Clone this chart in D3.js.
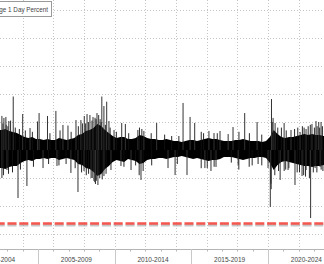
<!DOCTYPE html>
<html>
<head>
<meta charset="utf-8">
<script src="https://cdn.jsdelivr.net/npm/d3@7"></script>
<style>
  body { margin: 0; background: #fff; }
  svg { display: block; }
</style>
</head>
<body>
<svg id="chart"></svg>
<script>
// quarterly body of the daily change (dense black band), starting 2002 Q2
var coreStart = "2002-04-01";
var coreHigh = [1.43, 1.43, 1.5,
  1.36, 1.29, 1.21, 1.07,   0.93, 0.86, 0.93, 0.79,   0.79, 0.71, 0.79, 0.71,
  0.71, 0.86, 0.79, 0.71,   0.79, 0.86, 1.07, 1.14,   1.36, 1.43, 1.57, 1.86,
  1.71, 1.43, 1.21, 1.0,    0.86, 0.93, 0.93, 0.79,   0.79, 0.86, 1.07, 1.0,
  0.86, 0.79, 0.79, 0.71,   0.71, 0.79, 0.71, 0.64,   0.64, 0.57, 0.64, 0.71,
  0.71, 0.64, 0.71, 0.79,   0.86, 0.79, 0.79, 0.71,   0.64, 0.64, 0.64, 0.71,
  0.71, 0.79, 0.71, 0.64,   0.64, 0.64, 0.57, 0.64,   0.93, 1.43, 1.14, 0.93,
  0.86, 0.93, 0.93, 1.0,    1.07, 1.14, 1.07, 1.14,   1.07, 1.07, 1.0, 1.0];
var coreLow = [-1.29, -1.29, -1.36,
  -1.21, -1.14, -1.14, -0.93,   -0.79, -0.71, -0.79, -0.64,   -0.64, -0.57, -0.64, -0.57,
  -0.57, -0.71, -0.64, -0.57,   -0.64, -0.71, -1.0, -1.07,    -1.29, -1.36, -1.57, -1.86,
  -1.71, -1.36, -1.14, -0.86,   -0.71, -0.79, -0.86, -0.64,   -0.71, -0.79, -1.0, -0.93,
  -0.71, -0.64, -0.64, -0.57,   -0.57, -0.64, -0.57, -0.5,    -0.5, -0.43, -0.5, -0.57,
  -0.64, -0.57, -0.64, -0.71,   -0.79, -0.71, -0.71, -0.64,   -0.5, -0.5, -0.5, -0.57,
  -0.64, -0.71, -0.64, -0.57,   -0.57, -0.5, -0.5, -0.57,     -0.93, -1.43, -1.07, -0.86,
  -0.79, -0.86, -0.93, -1.0,    -1.07, -1.14, -1.14, -1.21,   -1.14, -1.14, -1.07, -1.07];

// single days that stick far out of the body
var spikeDates = [
  "2002-08-25", "2002-10-12", "2002-11-28", "2003-02-06", "2003-05-22", "2004-01-02",
  "2004-06-25", "2004-12-20", "2005-01-27", "2005-08-15", "2006-03-03", "2006-08-18",
  "2006-12-16", "2007-06-25", "2007-10-20", "2008-01-08", "2008-03-14", "2008-05-22",
  "2008-08-03", "2008-11-06", "2008-12-16", "2009-03-01", "2009-04-20", "2009-06-25",
  "2009-08-18", "2009-12-17", "2010-06-18", "2010-09-13", "2011-07-08", "2011-11-28",
  "2012-09-27", "2014-06-18", "2014-12-02", "2015-03-22", "2016-02-24", "2016-06-24",
  "2016-11-14", "2017-05-27", "2017-09-20", "2018-06-25", "2019-04-16", "2020-03-24",
  "2020-05-01", "2020-06-18", "2021-01-19", "2021-07-02", "2022-02-03", "2022-06-25",
  "2022-11-13", "2023-02-17", "2023-04-23", "2023-06-18",
  "2002-08-26", "2002-12-24", "2003-09-13", "2004-04-12", "2005-05-01", "2006-03-29",
  "2007-02-24", "2007-08-11", "2008-01-02", "2008-06-18", "2008-08-26", "2008-10-01",
  "2008-11-28", "2009-04-21", "2009-10-05", "2010-05-31", "2011-01-26", "2011-09-20",
  "2013-06-25", "2013-12-10", "2014-09-20", "2015-11-20", "2016-04-13", "2016-08-11",
  "2018-01-20", "2020-01-02", "2020-02-25", "2020-10-16", "2021-01-20", "2021-04-23",
  "2021-10-05", "2022-03-22", "2022-06-26", "2022-10-12", "2023-01-27", "2023-05-27"];
var spikeValues = [
  2.43, 2.29, 2.36, 2.07, 3.82, 2.57,
  1.57, 2.04, 2.64, 2.43, 2.79, 1.79,
  1.75, 2.14, 2.14, 2.43, 2.57, 2.5,
  2.36, 2.64, 2.5, 3.82, 3.14, 3.45,
  2.07, 1.43, 1.93, 1.86, 1.43, 1.36,
  1.93, 3.36, 2.36, 1.93, 1.36, 1.21,
  1.36, 1.14, 1.64, 2.64, 2.0, 3.64,
  2.29, 1.93, 1.93, 1.43, 1.29, 1.5,
  1.86, 2.07, 2.0, 2.0,
  -2.0, -1.43, -3.43, -2.57, -1.29, -1.14,
  -1.64, -3.0, -1.5, -2.0, -2.21, -2.43,
  -2.5, -1.86, -1.43, -1.14, -1.43, -2.14,
  -1.29, -1.79, -1.79, -1.29, -1.5, -1.21,
  -1.07, -1.29, -4.07, -2.14, -1.5, -1.43,
  -2.5, -1.86, -1.43, -4.86, -1.29, -1.21];

// smaller days that fray the edge of the body
var fringeDates = [
  "2002-09-20", "2002-12-05", "2003-01-15", "2003-03-20", "2003-07-10", "2003-10-15",
  "2004-03-05", "2004-08-20", "2005-10-12", "2006-06-10", "2007-03-01", "2007-08-20",
  "2007-11-25", "2008-02-10", "2008-04-15", "2008-07-10", "2008-09-20", "2008-10-15",
  "2009-01-20", "2009-02-15", "2009-05-25", "2009-09-15", "2010-02-10", "2010-12-01",
  "2011-08-15", "2011-10-10", "2012-05-20", "2013-04-05", "2013-09-20", "2014-03-10",
  "2015-08-25", "2015-10-20", "2016-09-10", "2018-02-08", "2018-10-15", "2019-08-05",
  "2020-04-10", "2020-08-20", "2020-11-15", "2021-03-10", "2021-09-25", "2021-12-10",
  "2022-03-30", "2022-05-10", "2022-08-15", "2022-10-05", "2023-01-10", "2023-03-15",
  "2023-05-15", "2023-07-20",
  "2002-10-01", "2003-01-30", "2003-05-05", "2003-11-10", "2004-09-15", "2005-09-10",
  "2006-05-15", "2006-11-01", "2007-06-05", "2007-11-05", "2008-02-25", "2008-04-20",
  "2008-07-15", "2008-09-15", "2008-10-20", "2009-01-10", "2009-03-10", "2009-06-10",
  "2010-08-10", "2011-05-15", "2011-08-08", "2011-11-10", "2012-06-01", "2014-02-01",
  "2015-08-24", "2016-01-15", "2016-06-27", "2017-08-10", "2018-02-05", "2018-10-10",
  "2018-12-20", "2019-05-10", "2019-08-06", "2020-03-09", "2020-03-16", "2020-06-11",
  "2020-09-08", "2021-02-25", "2021-05-12", "2021-11-26", "2022-01-20", "2022-04-29",
  "2022-06-13", "2022-09-13", "2022-12-15", "2023-03-10", "2023-06-20", "2023-08-01"];
var fringeValues = [
  1.9, 1.8, 1.7, 2.1, 1.6, 1.5,
  1.4, 1.3, 1.2, 1.4, 1.3, 1.7,
  1.9, 1.9, 2.0, 2.1, 2.3, 2.2,
  2.2, 2.0, 1.8, 1.6, 1.3, 1.2,
  1.6, 1.5, 1.2, 1.1, 1.0, 1.0,
  1.3, 1.2, 1.2, 1.3, 1.2, 1.1,
  2.0, 1.6, 1.6, 1.4, 1.5, 1.6,
  1.7, 1.6, 1.7, 1.8, 1.6, 1.7,
  1.6, 1.7,
  -1.8, -1.7, -1.6, -1.4, -1.2, -1.0,
  -1.1, -1.0, -1.3, -1.6, -1.8, -1.7,
  -2.0, -2.3, -2.2, -2.0, -2.1, -1.7,
  -1.2, -1.1, -1.8, -1.5, -1.1, -1.0,
  -1.3, -1.3, -1.2, -0.9, -1.4, -1.2,
  -1.1, -1.0, -1.1, -2.4, -2.8, -1.8,
  -1.5, -1.4, -1.3, -1.6, -1.6, -1.8,
  -1.9, -2.0, -1.6, -1.6, -1.4, -1.5];

var thresholdValue = -5.25;
var gridValues = [-6, -4, -2, 0, 2, 4, 6, 8, 10];
var periodStarts = [2000, 2005, 2010, 2015, 2020];
var periodLabels = ["2000-2004", "2005-2009", "2010-2014", "2015-2019", "2020-2024"];
var legendLabel = "Change 1 Day Percent";

var width = 324, height = 264, axisY = 249;
var parse = d3.timeParse("%Y-%m-%d");

var svg = d3.select("#chart").attr("width", width).attr("height", height);

var x = d3.scaleTime()
    .domain([new Date(2005, 0, 1), new Date(2020, 0, 1)])
    .range([38, 268]);
var y = d3.scaleLinear().domain([-6, 10]).range([234, 10]);

// grid
svg.append("g").selectAll("line")
    .data(gridValues)
    .enter().append("line")
    .attr("x1", 0).attr("x2", width)
    .attr("y1", function(d) { return Math.round(y(d)) + 0.5; })
    .attr("y2", function(d) { return Math.round(y(d)) + 0.5; })
    .attr("stroke", "#c4c4c4")
    .attr("stroke-dasharray", "1,2");

var evenYears = d3.timeYear.every(2).range(new Date(2002, 0, 1), new Date(2024, 0, 2));
svg.append("g").selectAll("line")
    .data(evenYears)
    .enter().append("line")
    .attr("x1", function(d) { return Math.round(x(d)) + 0.5; })
    .attr("x2", function(d) { return Math.round(x(d)) + 0.5; })
    .attr("y1", 0).attr("y2", axisY)
    .attr("stroke", "#c4c4c4")
    .attr("stroke-dasharray", "1,2");

// body of the series
var core = coreHigh.map(function(h, i) {
  return {date: d3.timeDay.offset(d3.timeMonth.offset(parse(coreStart), 3 * i), 45),
          hi: h, lo: coreLow[i]};
});
svg.append("path")
    .datum(core)
    .attr("fill", "#000")
    .attr("d", d3.area()
        .x(function(d) { return x(d.date); })
        .y0(function(d) { return y(d.lo); })
        .y1(function(d) { return y(d.hi); }));

// fringe days
svg.append("g").selectAll("line")
    .data(fringeDates)
    .enter().append("line")
    .attr("x1", function(d) { return x(parse(d)); })
    .attr("x2", function(d) { return x(parse(d)); })
    .attr("y1", y(0))
    .attr("y2", function(d, i) { return y(fringeValues[i]); })
    .attr("stroke", "#111")
    .attr("stroke-width", 0.9);

// outlier days
svg.append("g").selectAll("line")
    .data(spikeDates)
    .enter().append("line")
    .attr("x1", function(d) { return x(parse(d)); })
    .attr("x2", function(d) { return x(parse(d)); })
    .attr("y1", y(0))
    .attr("y2", function(d, i) { return y(spikeValues[i]); })
    .attr("stroke", "#333")
    .attr("stroke-width", 1);

// red dashed threshold with its soft shadow
svg.append("line")
    .attr("x1", 0).attr("x2", width)
    .attr("y1", y(thresholdValue) + 1.6).attr("y2", y(thresholdValue) + 1.6)
    .attr("stroke", "#a0a0a0").attr("stroke-opacity", 0.6)
    .attr("stroke-width", 2.6)
    .attr("stroke-dasharray", "9,2.8").attr("stroke-dashoffset", 4.3);
svg.append("line")
    .attr("x1", 0).attr("x2", width)
    .attr("y1", y(thresholdValue)).attr("y2", y(thresholdValue))
    .attr("stroke", "#f5564e")
    .attr("stroke-width", 2.4)
    .attr("stroke-dasharray", "9,2.8").attr("stroke-dashoffset", 4.3);

// x axis
svg.append("line")
    .attr("x1", 0).attr("x2", width)
    .attr("y1", axisY + 0.5).attr("y2", axisY + 0.5)
    .attr("stroke", "#b5b5b5");

svg.append("g").selectAll("line")
    .data(d3.timeYear.range(new Date(2000, 0, 1), new Date(2026, 0, 1)))
    .enter().append("line")
    .attr("x1", function(d) { return Math.round(x(d)) + 0.5; })
    .attr("x2", function(d) { return Math.round(x(d)) + 0.5; })
    .attr("y1", axisY).attr("y2", axisY + 2.5)
    .attr("stroke", "#b5b5b5");

svg.append("g").selectAll("line")
    .data(periodStarts.concat([2025]))
    .enter().append("line")
    .attr("x1", function(d) { return Math.round(x(new Date(d, 0, 1))) + 0.5; })
    .attr("x2", function(d) { return Math.round(x(new Date(d, 0, 1))) + 0.5; })
    .attr("y1", axisY).attr("y2", height)
    .attr("stroke", "#c8c8c8");

svg.append("g").selectAll("text")
    .data(periodLabels)
    .enter().append("text")
    .attr("x", function(d, i) {
      return (x(new Date(periodStarts[i], 0, 1)) + x(new Date(periodStarts[i] + 5, 0, 1))) / 2;
    })
    .attr("y", 261.5)
    .attr("text-anchor", "middle")
    .attr("font-family", "Liberation Sans, Arial, sans-serif")
    .attr("font-size", 6.5)
    .attr("fill", "#444")
    .text(function(d) { return d; });

// legend box, cut by the left edge
svg.append("rect")
    .attr("x", -20.5).attr("y", 1.5)
    .attr("width", 72).attr("height", 15)
    .attr("fill", "#fff")
    .attr("stroke", "#9a9a9a");
svg.append("text")
    .attr("x", 48).attr("y", 11.5)
    .attr("text-anchor", "end")
    .attr("font-family", "Liberation Sans, Arial, sans-serif")
    .attr("font-size", 6.3)
    .attr("fill", "#444")
    .text(legendLabel);
</script>
</body>
</html>
